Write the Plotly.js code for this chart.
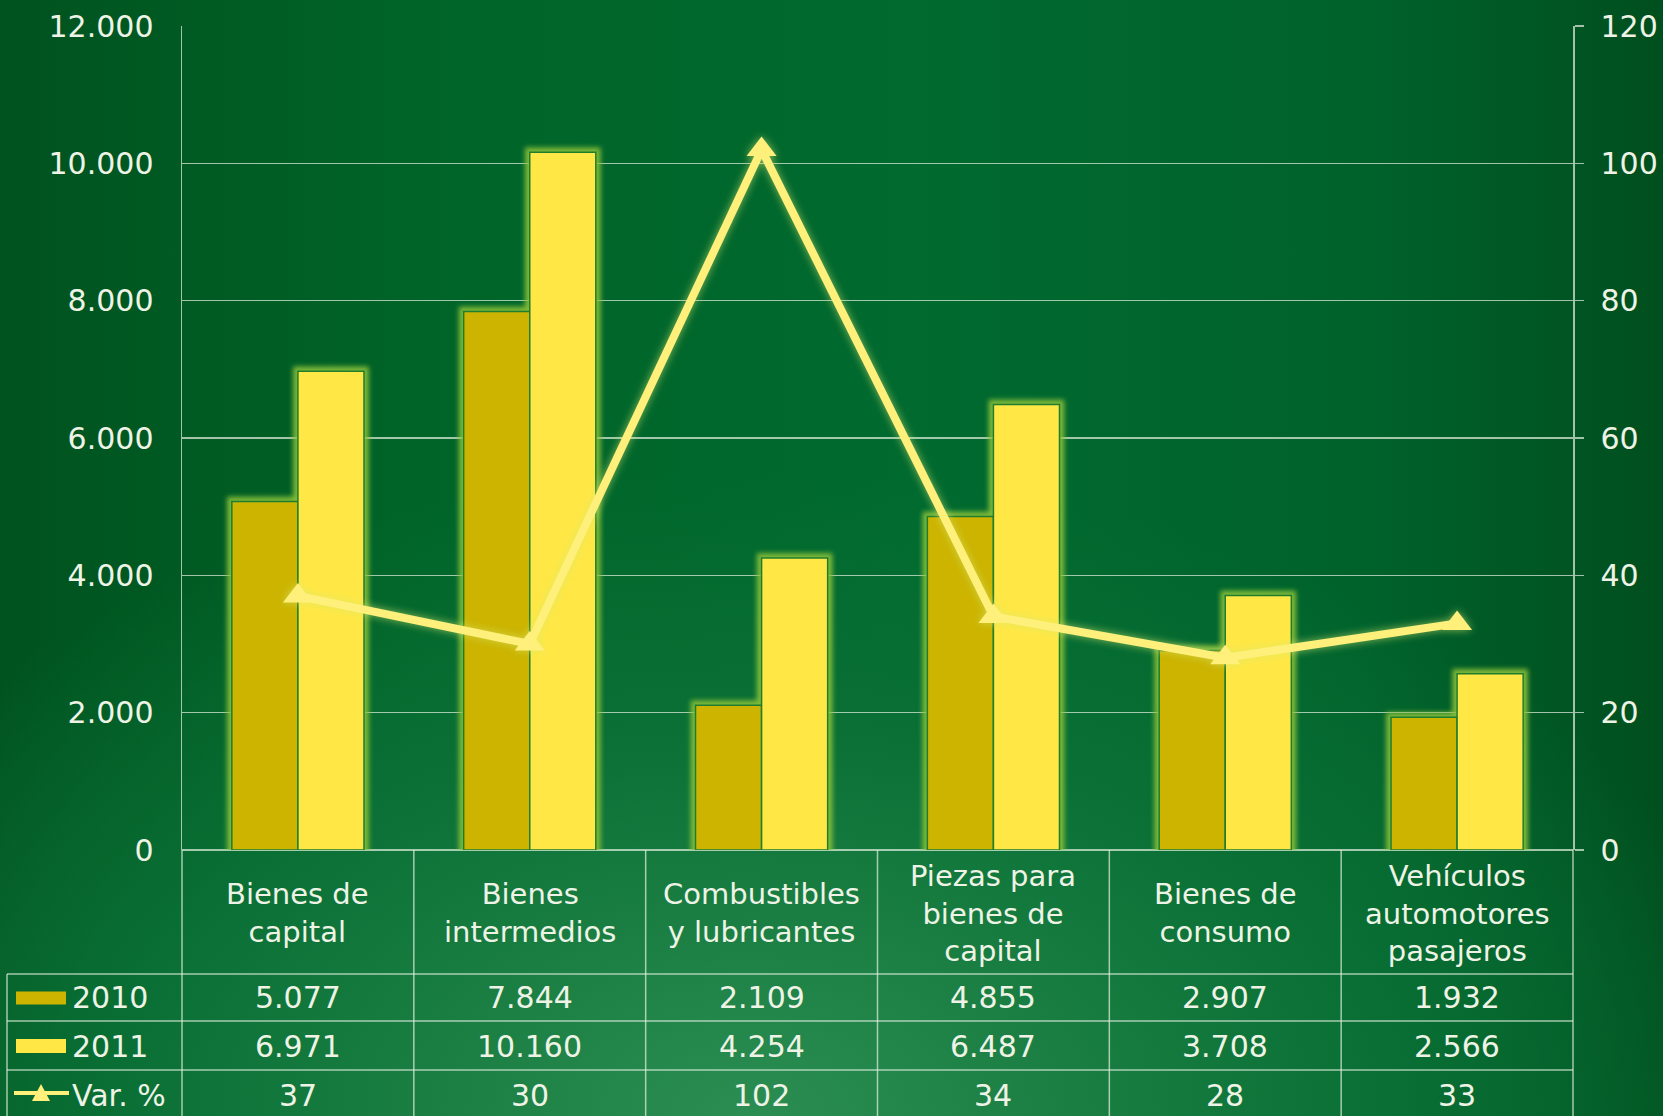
<!DOCTYPE html>
<html>
<head>
<meta charset="utf-8">
<script src="https://cdn.plot.ly/plotly-3.0.1.min.js"></script>
<style>
html,body{margin:0;padding:0;width:1663px;height:1116px;overflow:hidden;}
body{
  background:
    radial-gradient(ellipse 62% 58% at 45% 100%, #2b8d52 0%, #1b7f43 30%, #0a7035 60%, rgba(0,100,45,0) 100%),
    linear-gradient(90deg, #00521e 0%, #006428 25%, #006a2f 55%, #00622b 82%, #004f1e 100%);
}
#chart{width:1663px;height:1116px;}
</style>
</head>
<body>
<div id="chart"></div>
<script>
// ---- data ----
const categories = ["Bienes de<br>capital", "Bienes<br>intermedios", "Combustibles<br>y lubricantes", "Piezas para<br>bienes de<br>capital", "Bienes de<br>consumo", "Vehículos<br>automotores<br>pasajeros"];
const values2010 = [5077, 7844, 2109, 4855, 2907, 1932];
const values2011 = [6971, 10160, 4254, 6487, 3708, 2566];
const varPct = [37, 30, 102, 34, 28, 33];
const seriesNames = ["2010", "2011", "Var. %"];
const leftTicks = [0, 2000, 4000, 6000, 8000, 10000, 12000];
const rightTicks = [0, 20, 40, 60, 80, 100, 120];

// ---- styling ----
const FONT = "DejaVu Sans, Verdana, sans-serif";
const TXT = "#eef3e6";
const GRID = "rgba(225,238,222,0.72)";
const C2010 = "#ccb400";
const C2011 = "#ffe845";
const CLINE = "#fff07c";

// plot area in pixels
const PL = 182, PR = 1573, PT = 26, PB = 850;
const W = PR - PL, H = PB - PT;
const px2x = p => (p - PL) / W;
const py2y = p => (PB - p) / H;
const fmt = n => String(n).replace(/\B(?=(\d{3})+(?!\d))/g, ".");

const idx = categories.map((c, i) => i);

const traces = [
  {type: "bar", name: seriesNames[0], x: idx, y: values2010,
   marker: {color: C2010, line: {color: "#1f7d2e", width: 1.5}}, hoverinfo: "skip"},
  {type: "bar", name: seriesNames[1], x: idx, y: values2011,
   marker: {color: C2011, line: {color: "#1f7d2e", width: 1.5}}, hoverinfo: "skip"},
  {type: "scatter", mode: "lines+markers", name: seriesNames[2], x: idx, y: varPct, yaxis: "y2",
   line: {color: CLINE, width: 8}, marker: {symbol: "triangle-up", size: 26, color: CLINE},
   hoverinfo: "skip", cliponaxis: false}
];

// table rows (pixel centres)
const rowHeader = 913, row2010 = 998, row2011 = 1046, rowVar = 1095;
const hLines = [974, 1021, 1070];
const tableBottom = 1130;

const annotations = [];
const cellFont = {family: FONT, size: 30, color: TXT};
categories.forEach((c, i) => {
  annotations.push({xref: "x", yref: "paper", x: i, y: py2y(rowHeader), text: c, showarrow: false,
    xanchor: "center", yanchor: "middle", font: {family: FONT, size: 29, color: TXT}});
  annotations.push({xref: "x", yref: "paper", x: i, y: py2y(row2010), text: fmt(values2010[i]), showarrow: false,
    xanchor: "center", yanchor: "middle", font: cellFont});
  annotations.push({xref: "x", yref: "paper", x: i, y: py2y(row2011), text: fmt(values2011[i]), showarrow: false,
    xanchor: "center", yanchor: "middle", font: cellFont});
  annotations.push({xref: "x", yref: "paper", x: i, y: py2y(rowVar), text: String(varPct[i]), showarrow: false,
    xanchor: "center", yanchor: "middle", font: cellFont});
});
[[seriesNames[0], row2010], [seriesNames[1], row2011], [seriesNames[2], rowVar]].forEach(([t, r]) => {
  annotations.push({xref: "paper", yref: "paper", x: px2x(70), y: py2y(r), text: t, showarrow: false,
    xanchor: "left", yanchor: "middle", font: cellFont});
});

const lineStyle = {color: GRID, width: 1.5};
const shapes = [];
// horizontal table lines
hLines.forEach(p => shapes.push({type: "line", xref: "paper", yref: "paper", x0: px2x(7), x1: 1,
  y0: py2y(p), y1: py2y(p), line: lineStyle}));
// vertical table lines
shapes.push({type: "line", xref: "paper", yref: "paper", x0: px2x(7), x1: px2x(7), y0: py2y(hLines[0]), y1: py2y(tableBottom), line: lineStyle});
shapes.push({type: "line", xref: "paper", yref: "paper", x0: 0, x1: 0, y0: 0, y1: py2y(tableBottom), line: lineStyle});
shapes.push({type: "line", xref: "paper", yref: "paper", x0: 1, x1: 1, y0: 0, y1: py2y(tableBottom), line: lineStyle});
for (let i = 0; i < categories.length - 1; i++) {
  shapes.push({type: "line", xref: "x", yref: "paper", x0: i + 0.5, x1: i + 0.5, y0: 0, y1: py2y(tableBottom), line: lineStyle});
}
// legend keys
shapes.push({type: "rect", xref: "paper", yref: "paper", x0: px2x(16), x1: px2x(66),
  y0: py2y(row2010 - 6.5), y1: py2y(row2010 + 6.5), fillcolor: C2010, line: {width: 0}});
shapes.push({type: "rect", xref: "paper", yref: "paper", x0: px2x(16), x1: px2x(66),
  y0: py2y(row2011 - 7), y1: py2y(row2011 + 7), fillcolor: C2011, line: {width: 0}});
shapes.push({type: "line", xref: "paper", yref: "paper", x0: px2x(14), x1: px2x(69),
  y0: py2y(rowVar - 2), y1: py2y(rowVar - 2), line: {color: CLINE, width: 4}});
shapes.push({type: "path", xref: "paper", yref: "paper",
  path: `M ${px2x(32)},${py2y(rowVar + 6)} L ${px2x(50)},${py2y(rowVar + 6)} L ${px2x(41)},${py2y(rowVar - 11)} Z`,
  fillcolor: CLINE, line: {width: 0}});

const layout = {
  width: 1663, height: 1116,
  margin: {l: PL, r: 1663 - PR, t: PT, b: 1116 - PB, pad: 0},
  paper_bgcolor: "rgba(0,0,0,0)", plot_bgcolor: "rgba(0,0,0,0)",
  separators: ",.",
  showlegend: false, hovermode: false,
  barmode: "group", bargap: 0.43, bargroupgap: 0,
  font: {family: FONT, size: 30, color: TXT},
  xaxis: {type: "linear", range: [-0.5, categories.length - 0.5], showgrid: false, zeroline: false,
    showline: false, showticklabels: false, ticks: "", fixedrange: true},
  yaxis: {range: [0, 12000], tickvals: leftTicks, ticktext: leftTicks.map(fmt), showgrid: true, gridcolor: GRID, gridwidth: 1.5,
    zeroline: true, zerolinecolor: GRID, zerolinewidth: 1.5,
    showline: true, linecolor: GRID, linewidth: 1.5, ticks: "", ticklabelstandoff: 21,
    tickfont: {family: FONT, size: 30, color: TXT}, fixedrange: true},
  yaxis2: {range: [0, 120], tickvals: rightTicks, overlaying: "y", side: "right", showgrid: false, zeroline: false,
    showline: true, linecolor: GRID, linewidth: 1.5, ticks: "outside", ticklen: 9, tickcolor: GRID, tickwidth: 1.5,
    ticklabelstandoff: 11, tickfont: {family: FONT, size: 30, color: TXT}, fixedrange: true},
  annotations: annotations,
  shapes: shapes
};

Plotly.newPlot("chart", traces, layout, {displayModeBar: false, staticPlot: true}).then(gd => {
  const svg = gd.querySelector(".main-svg");
  const defs = svg.querySelector("defs");
  defs.insertAdjacentHTML("beforeend",
    '<filter id="barglow" x="-5%" y="-5%" width="110%" height="110%" color-interpolation-filters="sRGB">' +
      '<feMorphology in="SourceAlpha" operator="dilate" radius="4" result="dil"/>' +
      '<feGaussianBlur in="dil" stdDeviation="2.8" result="blur"/>' +
      '<feFlood flood-color="#8cc43a" flood-opacity="0.9" result="col"/>' +
      '<feComposite in="col" in2="blur" operator="in" result="glow"/>' +
      '<feMerge><feMergeNode in="glow"/><feMergeNode in="SourceGraphic"/></feMerge>' +
    '</filter>' +
    '<filter id="lineglow" x="-5%" y="-10%" width="110%" height="120%" color-interpolation-filters="sRGB">' +
      '<feGaussianBlur in="SourceAlpha" stdDeviation="4" result="b"/>' +
      '<feFlood flood-color="#d8e870" flood-opacity="0.65" result="c"/>' +
      '<feComposite in="c" in2="b" operator="in" result="g"/>' +
      '<feMerge><feMergeNode in="g"/><feMergeNode in="SourceGraphic"/></feMerge>' +
    '</filter>');
  gd.querySelectorAll(".barlayer").forEach(el => el.setAttribute("filter", "url(#barglow)"));
  gd.querySelectorAll(".scatterlayer").forEach(el => el.setAttribute("filter", "url(#lineglow)"));
});
</script>
</body>
</html>
